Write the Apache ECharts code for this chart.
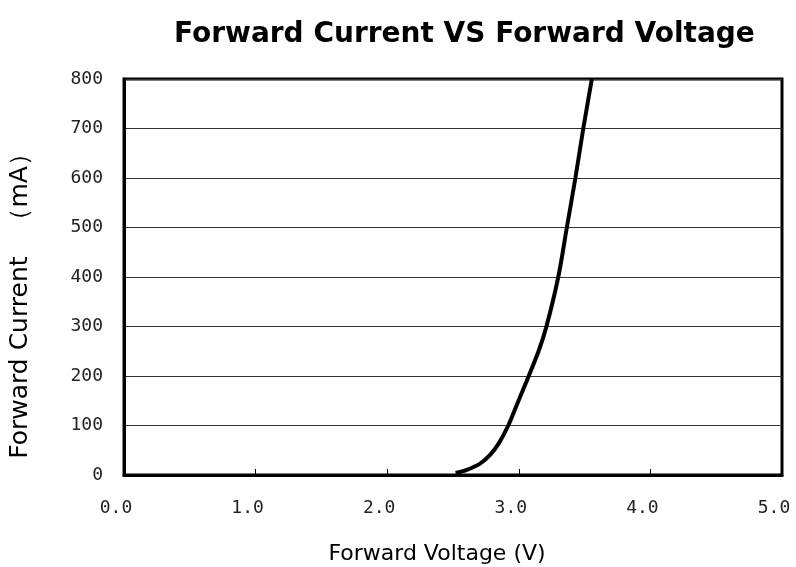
<!DOCTYPE html>
<html>
<head>
<meta charset="utf-8">
<script src="https://cdn.jsdelivr.net/npm/echarts@6/dist/echarts.min.js"></script>
<style>html,body{margin:0;padding:0;background:#fff;}#c{width:796px;height:567px;}</style>
</head>
<body>
<div id="c"></div>
<script>
var voltage = [2.52, 2.60, 2.70, 2.78, 2.85, 2.92, 2.99, 3.06, 3.15, 3.21, 3.30, 3.365, 3.43, 3.49, 3.555];
var current = [4, 10, 22, 40, 65, 100, 145, 190, 250, 300, 400, 500, 600, 700, 800];
var xTicks = ['0.0', '1.0', '2.0', '3.0', '4.0', '5.0'];
var yTicks = [0, 100, 200, 300, 400, 500, 600, 700, 800];

var pts = voltage.map(function (v, i) { return [v, current[i]]; });
var chart = echarts.init(document.getElementById('c'));
chart.setOption({
  animation: false,
  backgroundColor: '#fff',
  title: {
    text: 'Forward Current VS Forward Voltage',
    left: 169, top: 16,
    textStyle: { fontFamily: 'DejaVu Sans', fontWeight: 'bold', fontSize: 28, color: '#000' }
  },
  grid: { left: 124, right: 14, top: 79, bottom: 92, show: true, borderColor: '#000', borderWidth: 3,
    backgroundColor: 'transparent', containLabel: false, outerBoundsMode: 'none' },
  xAxis: {
    type: 'value', min: 0, max: 5, interval: 1,
    name: 'Forward Voltage (V)', nameLocation: 'middle', nameGap: 68,
    nameTextStyle: { fontFamily: 'DejaVu Sans', fontSize: 22, color: '#000', padding: [0, 0, 0, -32] },
    axisLine: { show: true, lineStyle: { color: '#000', width: 3 } },
    axisTick: { show: true, inside: true, length: 6, lineStyle: { color: '#000', width: 1 } },
    axisLabel: { margin: 24, fontFamily: 'DejaVu Sans Mono', fontSize: 18, color: '#222', padding: [0, 16, 0, 0],
      formatter: function (v) { return xTicks[Math.round(v)]; } },
    splitLine: { show: false }
  },
  yAxis: {
    type: 'value', min: 0, max: 800, interval: 100,
    axisLine: { show: true, lineStyle: { color: '#000', width: 3 } },
    axisTick: { show: false },
    axisLabel: { margin: 21, fontFamily: 'DejaVu Sans Mono', fontSize: 18, color: '#222',
      formatter: function (v) { return yTicks.indexOf(v) >= 0 ? String(v) : ''; } },
    splitLine: { show: true, lineStyle: { color: '#333', width: 1 } }
  },
  graphic: [{
    type: 'text', x: 20, y: 300, rotation: Math.PI / 2,
    style: { text: 'Forward Current   （mA）', fontFamily: 'DejaVu Sans', fontSize: 25, fill: '#000', align: 'center', verticalAlign: 'middle' }
  }],
  series: [{
    type: 'line', data: pts, smooth: 0.3, symbol: 'none', clip: true,
    lineStyle: { color: '#000', width: 4 }
  }]
});
</script>
</body>
</html>
